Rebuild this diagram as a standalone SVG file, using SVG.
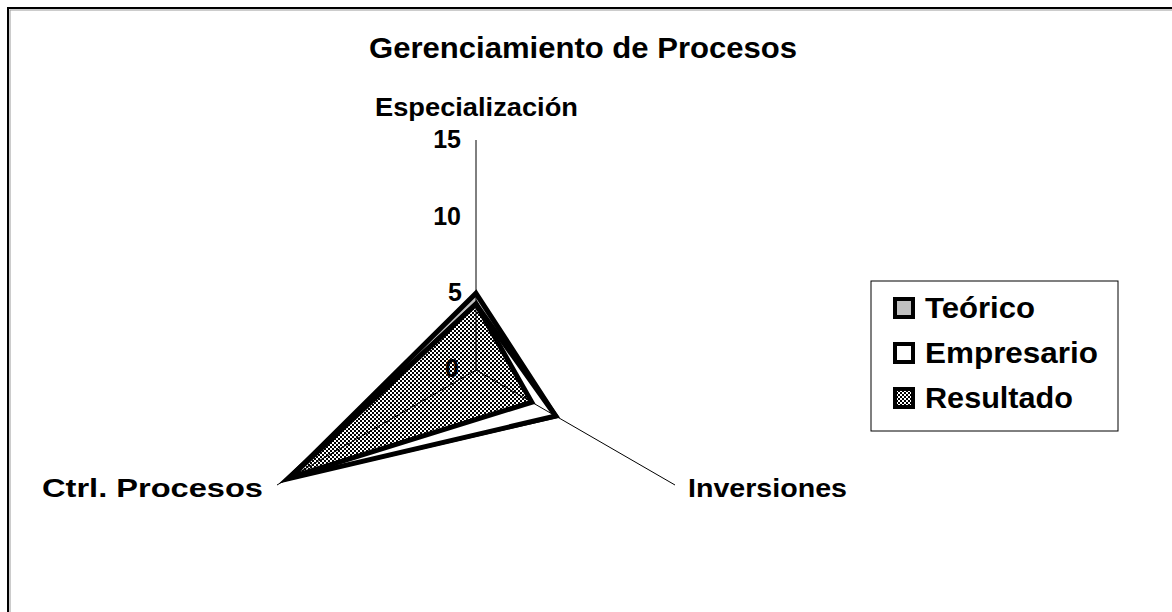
<svg xmlns="http://www.w3.org/2000/svg" width="1172" height="612" viewBox="0 0 1172 612">
<style>
  .t { font-family: "Liberation Sans", Arial, sans-serif; font-weight: bold; fill: #000; }
  .axis { stroke: #000; stroke-width: 1; fill: none; }
  .series { stroke: #000; stroke-width: 5; stroke-linejoin: miter; stroke-miterlimit: 10; }
</style>
<defs>
  <pattern id="chk" width="4" height="4" patternUnits="userSpaceOnUse">
    <rect width="4" height="4" fill="#fff"/>
    <rect x="0" y="0" width="2" height="2" fill="#000"/>
    <rect x="2" y="2" width="2" height="2" fill="#000"/>
  </pattern>
</defs>
<rect width="1172" height="612" fill="#fff"/>
<rect x="10" y="10" width="1200" height="700" fill="none" stroke="#999" stroke-width="1"/>
<rect x="8" y="8" width="1200" height="700" fill="none" stroke="#000" stroke-width="2"/>

<text class="t" x="369" y="58" font-size="30" textLength="428" lengthAdjust="spacingAndGlyphs">Gerenciamiento de Procesos</text>

<g id="series">
  <polygon id="teorico" class="series" fill="#c0c0c0" points="476,293.3 555.7,416 290.1,477.3"/>
  <polygon id="empresario" class="series" fill="#fff" points="476,304.1 555.7,416 287.5,478.9"/>
  <polygon id="resultado" class="series" fill="url(#chk)" points="476,304.1 531.8,402.2 290.1,477.3"/>
</g>

<g id="connectors">
  <line class="axis" x1="476" y1="370" x2="476" y2="140"/>
  <line class="axis" x1="476" y1="370" x2="675" y2="485"/>
  <line class="axis" x1="476" y1="370" x2="277" y2="485"/>
</g>

<g id="ticks">
  <text class="t" x="461" y="148" font-size="25" text-anchor="end">15</text>
  <text class="t" x="461" y="225" font-size="25" text-anchor="end">10</text>
  <text class="t" x="462" y="301" font-size="25" text-anchor="end">5</text>
  <text class="t" x="459" y="377" font-size="25" text-anchor="end">0</text>
</g>

<g id="especializacion"><text class="t" x="375" y="116" font-size="26" textLength="203" lengthAdjust="spacingAndGlyphs">Especialización</text></g>
<g id="inversiones"><text class="t" x="688" y="497" font-size="26" textLength="159" lengthAdjust="spacingAndGlyphs">Inversiones</text></g>
<g id="ctrl"><text class="t" x="42" y="497" font-size="26" textLength="221" lengthAdjust="spacingAndGlyphs">Ctrl. Procesos</text></g>

<g id="legend">
  <rect x="871" y="281" width="247" height="150" fill="#fff" stroke="#000" stroke-width="1"/>
  <rect x="895" y="299" width="18" height="18" fill="#c0c0c0" stroke="#000" stroke-width="4"/>
  <rect x="895" y="344" width="18" height="18" fill="#fff" stroke="#000" stroke-width="4"/>
  <rect x="895" y="389" width="18" height="18" fill="url(#chk)" stroke="#000" stroke-width="4"/>
  <text class="t" x="925" y="318" font-size="29" textLength="110" lengthAdjust="spacingAndGlyphs">Teórico</text>
  <text class="t" x="925" y="363" font-size="29" textLength="173" lengthAdjust="spacingAndGlyphs">Empresario</text>
  <text class="t" x="925" y="408" font-size="29" textLength="148" lengthAdjust="spacingAndGlyphs">Resultado</text>
</g>
</svg>
